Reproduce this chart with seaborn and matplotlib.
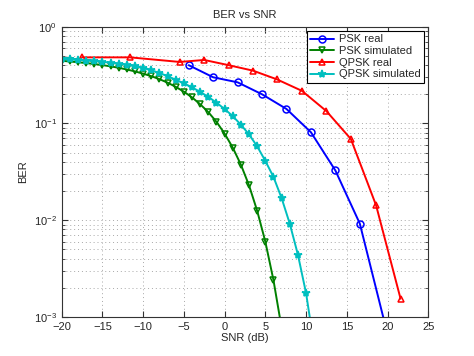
import numpy as np
import pandas as pd
import seaborn as sns
import matplotlib.pyplot as plt

# values
psk_real_snr = [-4.4, -1.4, 1.6, 4.6, 7.6, 10.6, 13.6, 16.6, 19.6]
psk_real_ber = [0.40, 0.30, 0.266, 0.20, 0.141, 0.081, 0.0326, 0.0092, 0.0009]

psk_sim_snr = list(range(-20, 8))
psk_sim_ber = [0.444, 0.437, 0.429, 0.421, 0.411, 0.401, 0.389, 0.376, 0.361,
               0.345, 0.327, 0.308, 0.287, 0.264, 0.239, 0.213, 0.186, 0.158,
               0.131, 0.104, 0.0786, 0.0563, 0.0375, 0.0229, 0.0125, 0.0060,
               0.0024, 0.00077]

qpsk_real_snr = [-17.5, -11.6, -5.5, -2.5, 0.5, 3.5, 6.4, 9.5, 12.5, 15.5, 18.6, 21.6]
qpsk_real_ber = [0.482, 0.482, 0.432, 0.453, 0.40, 0.351, 0.286, 0.217, 0.134,
                 0.069, 0.0142, 0.00154]

qpsk_sim_snr = list(range(-20, 12))
qpsk_sim_ber = [0.462, 0.458, 0.453, 0.447, 0.441, 0.433, 0.424, 0.414, 0.403,
                0.390, 0.374, 0.355, 0.333, 0.308, 0.283, 0.260, 0.236, 0.212,
                0.188, 0.164, 0.141, 0.119, 0.097, 0.077, 0.058, 0.041, 0.028,
                0.0169, 0.0092, 0.0044, 0.00176, 0.0005]

series = [
    ("PSK real", psk_real_snr, psk_real_ber, "#0000ff", "o", "none"),
    ("PSK simulated", psk_sim_snr, psk_sim_ber, "#008000", "v", "none"),
    ("QPSK real", qpsk_real_snr, qpsk_real_ber, "#ff0000", "^", "none"),
    ("QPSK simulated", qpsk_sim_snr, qpsk_sim_ber, "#00bfbf", "*", "#00bfbf"),
]

sns.set_style("ticks")
plt.rcParams['font.family'] = ['Liberation Sans', 'DejaVu Sans']

fig = plt.figure(figsize=(4.74, 3.56), dpi=100)
ax = fig.add_axes([0.13, 0.11, 0.7735, 0.815])

for name, x, y, col, mk, fc in series:
    df = pd.DataFrame({"SNR": x, "BER": y})
    sns.lineplot(data=df, x="SNR", y="BER", ax=ax, color=col, marker=mk,
                 markerfacecolor=fc, markeredgecolor=col,
                 markersize=6 if mk == "*" else 5,
                 markeredgewidth=1.1, linewidth=1.4, label=name, sort=False)

ax.set_yscale("log")
ax.set_xlim(-20, 25)
ax.set_ylim(1e-3, 1)
ax.set_xticks(np.arange(-20, 26, 5))
ax.grid(True, which="major", linestyle=(0, (1, 3)), color="#a8a8a8", linewidth=0.7)
ax.grid(True, which="minor", axis="y", linestyle=(0, (1, 3)), color="#a8a8a8", linewidth=0.7)
ax.tick_params(which="both", direction="in", top=True, right=True, labelsize=8,
               color="#333333")
ax.tick_params(which="major", length=4)
ax.tick_params(which="minor", length=2)
for s in ax.spines.values():
    s.set_color("#333333")
    s.set_linewidth(0.8)

ax.set_xlabel("SNR (dB)", fontsize=8, labelpad=1)
ax.set_ylabel("BER", fontsize=8, labelpad=4)
ax.set_title("BER vs SNR", fontsize=8, pad=6)

leg = ax.legend(loc="upper right", fontsize=8, fancybox=False, framealpha=1,
                edgecolor="black", borderaxespad=0.4, handlelength=2.2,
                labelspacing=0.15, borderpad=0.3, handletextpad=0.4)
leg.get_frame().set_linewidth(0.8)

fig.savefig("out.png", dpi=100)
